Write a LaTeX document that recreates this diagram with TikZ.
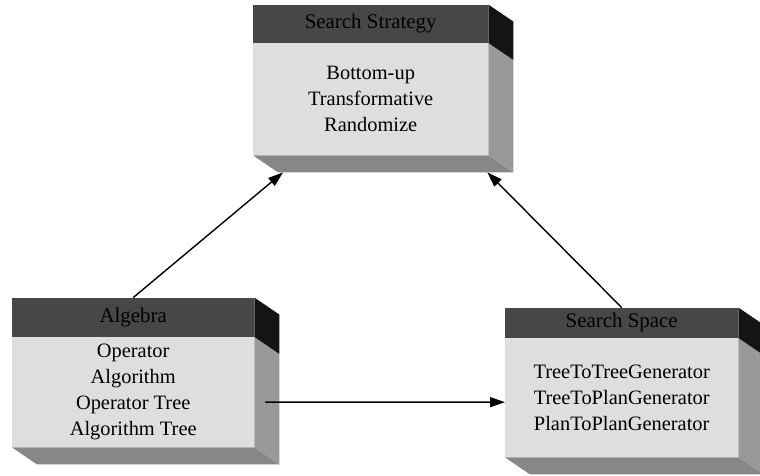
\documentclass[tikz,border=0pt]{standalone}
\usepackage{fontspec}
\setmainfont{Liberation Serif}
\usetikzlibrary{arrows.meta,calc}

\begin{document}
\begin{tikzpicture}[x=1bp,y=1bp,
    body/.style={fill=black!13, anchor=north west, inner sep=0pt, align=center,
      font=\fontsize{20.5}{26}\selectfont},
    head/.style={fill=black!72, anchor=south west, inner sep=0pt, text=black,
      font=\fontsize{21}{24}\selectfont},
    sidetop/.style={fill=black!92},
    sidelow/.style={fill=black!40},
    bottomface/.style={fill=black!47},
    arr/.style={-{Triangle[length=15bp,width=10bp]}, line width=1.4bp}]
    \useasboundingbox (0,0) rectangle (760,476);
    % front faces
    \node[body, minimum width=235bp, minimum height=112bp] (strat) at (253,433) {Bottom-up\\Transformative\\Randomize};
    \node[head, minimum width=235bp, minimum height=38bp] (strathead) at (strat.north west) {Search Strategy};
    \node[body, minimum width=242bp, minimum height=110bp] (alg) at (12,139) {Operator\\Algorithm\\Operator Tree\\Algorithm Tree};
    \node[head, minimum width=242bp, minimum height=39bp] (alghead) at (alg.north west) {Algebra};
    \node[body, minimum width=233bp, minimum height=119bp] (space) at (505,138) {TreeToTreeGenerator\\TreeToPlanGenerator\\PlanToPlanGenerator};
    \node[head, minimum width=233bp, minimum height=30bp] (spacehead) at (space.north west) {Search Space};
    % side and bottom faces
    \foreach \b in {strat,alg,space} {
        \fill[sidelow] (\b.north east) -- ++(25,-17) -- ($(\b.south east)+(25,-17)$) -- (\b.south east) -- cycle;
        \fill[sidetop] (\b head.north east) -- ++(25,-17) -- ($(\b head.south east)+(25,-17)$) -- (\b head.south east) -- cycle;
        \fill[bottomface] (\b.south west) -- ++(25,-17) -- ($(\b.south east)+(25,-17)$) -- (\b.south east) -- cycle;
    }
    % arrows
    \draw[arr] (alghead.north) -- ([shift={(30,-17)}]strat.south west);
    \draw[arr] (spacehead.north) -- ([shift={(-1,-17)}]strat.south east);
    \draw[arr] ([shift={(11,-10)}]alg.east) -- ([yshift=-4.5]space.west);
\end{tikzpicture}
\end{document}
